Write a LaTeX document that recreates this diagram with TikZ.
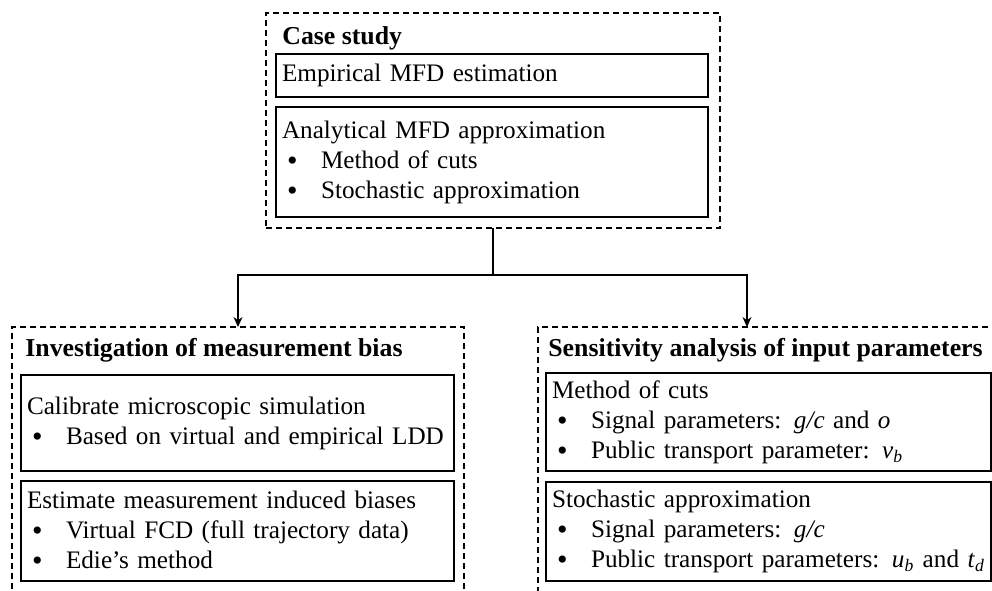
\documentclass[tikz,border=0pt]{standalone}
\usepackage{fontspec}
\setmainfont{Liberation Serif}
\usetikzlibrary{arrows.meta}

\newcommand{\bul}[1]{\\\hspace*{2.5pt}\makebox[17pt][l]{\raisebox{-1.2pt}{\fontsize{15pt}{15pt}\selectfont\textbullet}}#1}
\newcommand{\boxfont}{\fontsize{12.6pt}{15pt}\selectfont}

\tikzset{
  stage/.style={draw, line width=0.8pt, dash pattern=on 3pt off 2pt, anchor=north west, inner sep=0pt, outer sep=0pt},
  task/.style={draw, line width=1pt, anchor=north west, align=left, text width=#1, inner xsep=3pt, inner ysep=0pt, outer sep=0pt, font=\boxfont},
  heading/.style={anchor=west, inner sep=0pt, font=\fontsize{12.9pt}{15pt}\selectfont\bfseries},
  link/.style={line width=0.6pt, -{Stealth[length=5pt,width=4.5pt]}}
}

\begin{document}
\begin{tikzpicture}[x=0.5pt, y=-0.5pt]
  \useasboundingbox (0,0) rectangle (992,590);
  \clip (0,0) rectangle (992,590);

  % outer stages
  \node[stage, minimum width=227pt, minimum height=107.5pt] (case) at (266,13) {};
  \node[stage, minimum width=226pt, minimum height=140pt] (bias) at (12,327) {};
  \node[stage, minimum width=235pt, minimum height=140pt] (sens) at (538,327) {};

  % headings
  \node[heading] (casehead) at (282,38) {Case study};
  \node[heading] (biashead) at (25,350) {Investigation of measurement bias};
  \node[heading] (senshead) at (548,350) {Sensitivity analysis of input parameters};

  % tasks
  \node[task=210pt, minimum height=21.5pt] (emp) at (276,54) {Empirical MFD estimation};
  \node[task=210pt, minimum height=55pt] (ana) at (276,107) {Analytical MFD approximation
    \bul{Method of cuts}
    \bul{Stochastic approximation}};

  \node[task=210.5pt, minimum height=48pt] (cal) at (21,375) {Calibrate microscopic simulation
    \bul{Based on virtual and empirical LDD}};
  \node[task=210.5pt, minimum height=50pt] (est) at (21,481) {Estimate measurement induced biases
    \bul{Virtual FCD (full trajectory data)}
    \bul{Edie's method}};

  \node[task=216.5pt, minimum height=49pt] (moc) at (546,373) {Method of cuts
    \bul{Signal parameters: \textit{g/c} and \textit{o}}
    \bul{Public transport parameter: \textit{v}\textsubscript{\textit{b}}}};
  \node[task=216.5pt, minimum height=49.5pt] (sto) at (546,482) {Stochastic approximation
    \bul{Signal parameters: \textit{g/c}}
    \bul{Public transport parameters: \textit{u}\textsubscript{\textit{b}} and \textit{t}\textsubscript{\textit{d}}}};

  % connectors
  \draw[line width=0.6pt] (case.south) -- ++(0,47) coordinate (split);
  \coordinate (sensin) at (747,327);
  \draw[link] (split) -| (bias.north);
  \draw[link] (split) -| (sensin);

\end{tikzpicture}
\end{document}
